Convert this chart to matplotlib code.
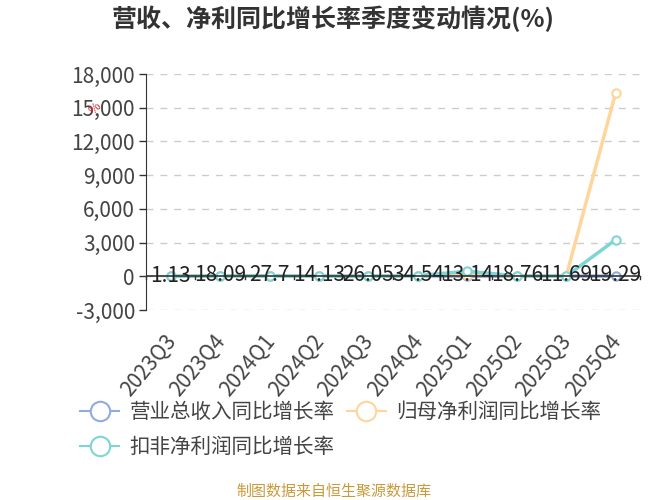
import matplotlib
matplotlib.use('Agg')
import matplotlib.pyplot as plt
import matplotlib.transforms as mtransforms
from matplotlib.lines import Line2D
import numpy as np

plt.rcParams['font.family'] = ['Noto Sans CJK SC', 'DejaVu Sans']

quarters = ['2023Q3', '2023Q4', '2024Q1', '2024Q2', '2024Q3',
            '2024Q4', '2025Q1', '2025Q2', '2025Q3', '2025Q4']
revenue = [1.13, 18.09, 27.7, 14.13, 26.05, 34.54, 13.14, 18.76, 11.69, 19.29]
net_profit = [5.2, 30.1, 45.3, 12.6, -8.4, 60.2, 150.3, 40.5, 10.2, 16300]
deducted = [3.1, 25.4, 40.2, 10.5, -12.3, 55.1, 450.0, 35.2, 8.9, 3250]

c_rev = '#91ace0'
c_np = '#fed69b'
c_dn = '#7dd5d6'

fig = plt.figure(figsize=(6.67, 5), dpi=100)
ax = fig.add_axes([0.219, 0.38, 0.741, 0.472])

x = np.arange(len(quarters))
for vals, col in [(revenue, c_rev), (net_profit, c_np), (deducted, c_dn)]:
    ax.plot(x, vals, color=col, lw=2.5, marker='o', ms=6,
            mfc='white', mec=col, mew=1.5, zorder=3)

# value labels for revenue
for xi, v in zip(x, revenue):
    ax.text(xi, v + 60, f'{v:g}', ha='center', va='center',
            fontsize=15, color='#222222', zorder=5)

ax.set_xlim(-0.5, len(quarters) - 0.5)
ax.set_ylim(-3000, 18000)
yt = np.arange(-3000, 18001, 3000)
ax.set_yticks(yt)
ax.set_yticklabels([f'{v:,}' for v in yt], fontsize=15, color='#444444')
ax.yaxis.grid(True, ls=(0, (5, 5)), color='#cccccc', lw=1)
ax.set_axisbelow(True)

ax.set_xticks(x)
ax.set_xticklabels(quarters, rotation=50, ha='right', va='top',
                   rotation_mode='anchor', fontsize=15, color='#444444')
ax.tick_params(axis='x', length=0, pad=15)
shift = mtransforms.ScaledTranslation(-7 / 100, 0, fig.dpi_scale_trans)
for lab in ax.get_xticklabels():
    lab.set_transform(lab.get_transform() + shift)
ax.tick_params(axis='y', length=5, color='#333333', width=1, pad=3)
for b in np.arange(-0.5, len(quarters), 1):
    ax.plot([b, b], [0, -250], color='#333333', lw=1, clip_on=False, zorder=4)

for s in ['top', 'right', 'bottom']:
    ax.spines[s].set_visible(False)
ax.spines['left'].set_color('#333333')
ax.axhline(0, color='#333333', lw=1.2, zorder=4)

fig.text(0.5, 0.962, '营收、净利同比增长率季度变动情况(%)', ha='center', va='center',
         fontsize=18, fontweight='bold', color='#333333')
fig.text(0.142, 0.783, '%', ha='center', va='center', fontsize=9,
         color='#e03030', rotation=45)

# legend: column-wise fill, so order gives rev, np on row 1 and dn on row 2
handles = [Line2D([], [], color=c, lw=1.5, marker='o', ms=14, mfc='white',
                  mec=c, mew=1.5) for c in (c_rev, c_dn, c_np)]
labels = ['营业总收入同比增长率', '扣非净利润同比增长率', '归母净利润同比增长率']
fig.legend(handles, labels, loc='upper left', bbox_to_anchor=(0.108, 0.215),
           ncol=2, frameon=False, fontsize=14.8, handlelength=1.9,
           columnspacing=0.6, labelcolor='#444444', borderaxespad=0,
           handletextpad=0.5, labelspacing=0.65)

fig.text(0.5, 0.016, '制图数据来自恒生聚源数据库', ha='center', va='center',
         fontsize=10.8, color='#c89a3a')

fig.savefig('out.png', dpi=100)
